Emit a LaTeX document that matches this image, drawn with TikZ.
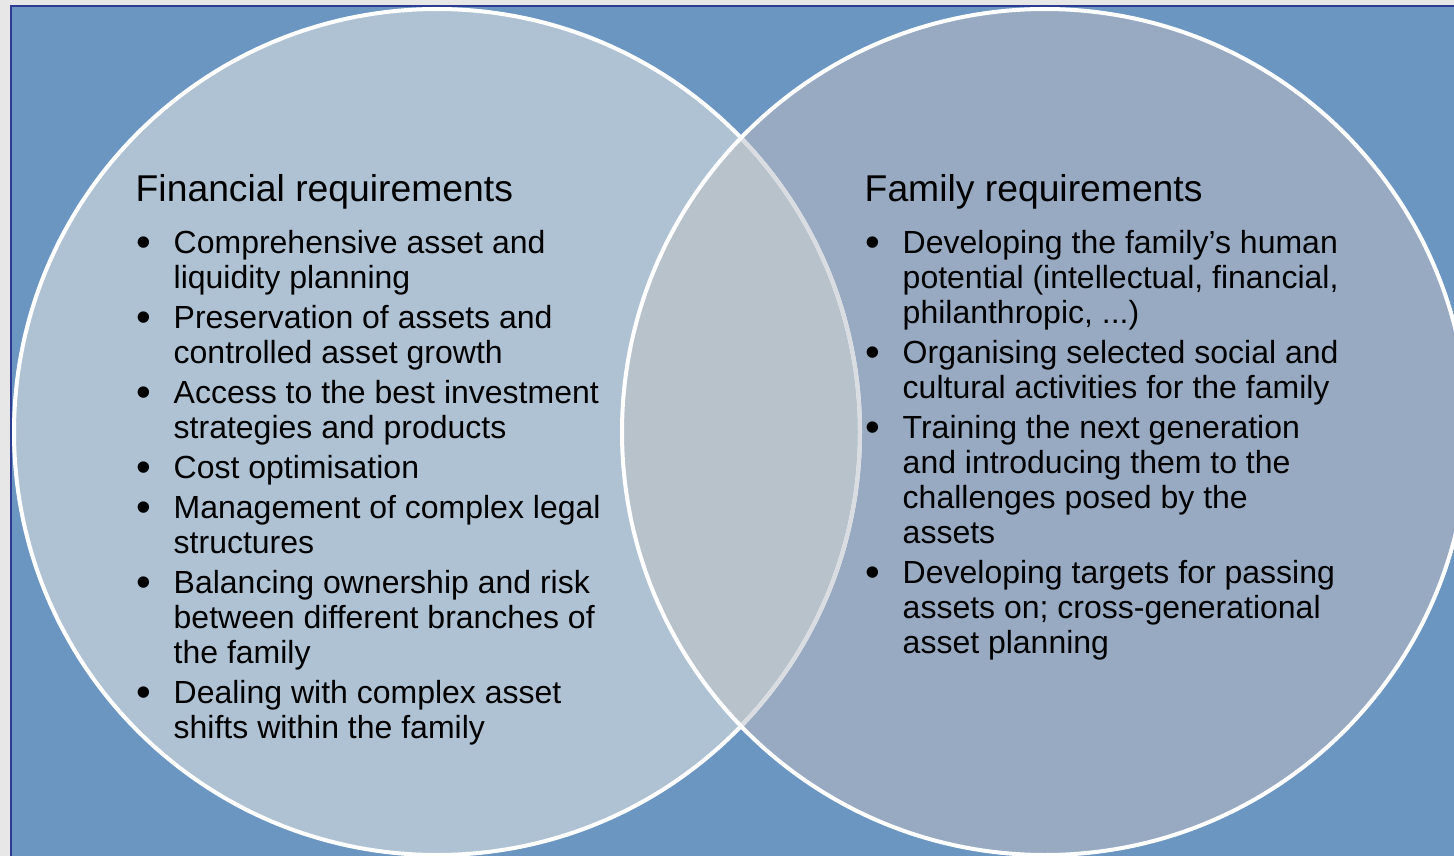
\documentclass[tikz,border=0pt]{standalone}
\usepackage{fontspec}
\setmainfont{Liberation Sans}
\definecolor{pagegray}{HTML}{E7E7E7}
\definecolor{panelblue}{HTML}{6B96C2}
\definecolor{paneledge}{HTML}{2E3B93}
\definecolor{finfill}{HTML}{AFC2D4}
\definecolor{famfill}{HTML}{97AAC2}
\definecolor{bothfill}{HTML}{B8C2CB}
\definecolor{hiddenarc}{HTML}{D9DDE1}
\tikzset{
  heading/.style={anchor=base west, inner sep=0pt, font=\fontsize{37.3}{40}\selectfont},
  entry/.style={anchor=base west, inner sep=0pt, font=\fontsize{32}{35}\selectfont},
  dot/.style={anchor=base west, inner sep=0pt, font=\fontsize{42}{44}\selectfont},
  rim/.style={line width=4pt}
}
\begin{document}
\begin{tikzpicture}[x=1pt,y=-1pt]
\useasboundingbox (0,0) rectangle (1454,856);
% page and panel
\fill[pagegray] (0,0) rectangle (1454,856);
\fill[panelblue] (11,6) rectangle (1470,870);
\draw[paneledge, line width=1.6pt] (11,870) -- (11,6) -- (1470,6);
% circle centres
\coordinate (fc) at (437,432);
\coordinate (mc) at (1045,432);
% fills
\fill[finfill] (fc) circle[radius=423pt];
\fill[famfill] (mc) circle[radius=423pt];
\begin{scope}
  \clip (fc) circle[radius=423pt];
  \fill[bothfill] (mc) circle[radius=423pt];
\end{scope}
% outlines
\draw[white, rim] (fc) circle[radius=423pt];
\begin{scope}
  \clip (mc) circle[radius=421pt];
  \draw[hiddenarc, rim] (fc) circle[radius=423pt];
\end{scope}
\draw[white, rim] (mc) circle[radius=423pt];

% left set
\node[heading] (ftitle) at (135.5,201) {Financial requirements};
\node[dot] (fb1) at (136,256) {•};
\node[entry] (f1a) at (173.5,253) {Comprehensive asset and};
\node[entry] (f1b) at (173.5,288) {liquidity planning};
\node[dot] (fb2) at (136,331) {•};
\node[entry] (f2a) at (173.5,328) {Preservation of assets and};
\node[entry] (f2b) at (173.5,363) {controlled asset growth};
\node[dot] (fb3) at (136,406) {•};
\node[entry] (f3a) at (173.5,403) {Access to the best investment};
\node[entry] (f3b) at (173.5,438) {strategies and products};
\node[dot] (fb4) at (136,481) {•};
\node[entry] (f4a) at (173.5,478) {Cost optimisation};
\node[dot] (fb5) at (136,521) {•};
\node[entry] (f5a) at (173.5,518) {Management of complex legal};
\node[entry] (f5b) at (173.5,553) {structures};
\node[dot] (fb6) at (136,596) {•};
\node[entry] (f6a) at (173.5,593) {Balancing ownership and risk};
\node[entry] (f6b) at (173.5,628) {between different branches of};
\node[entry] (f6c) at (173.5,663) {the family};
\node[dot] (fb7) at (136,706) {•};
\node[entry] (f7a) at (173.5,703) {Dealing with complex asset};
\node[entry] (f7b) at (173.5,738) {shifts within the family};

% right set
\node[heading] (mtitle) at (864.5,201) {Family requirements};
\node[dot] (mb1) at (865,256) {•};
\node[entry] (m1a) at (902.5,253) {Developing the family’s human};
\node[entry] (m1b) at (902.5,288) {potential (intellectual, financial,};
\node[entry] (m1c) at (902.5,323) {philanthropic, ...)};
\node[dot] (mb2) at (865,366) {•};
\node[entry] (m2a) at (902.5,363) {Organising selected social and};
\node[entry] (m2b) at (902.5,398) {cultural activities for the family};
\node[dot] (mb3) at (865,441) {•};
\node[entry] (m3a) at (902.5,438) {Training the next generation};
\node[entry] (m3b) at (902.5,473) {and introducing them to the};
\node[entry] (m3c) at (902.5,508) {challenges posed by the};
\node[entry] (m3d) at (902.5,543) {assets};
\node[dot] (mb4) at (865,586) {•};
\node[entry] (m4a) at (902.5,583) {Developing targets for passing};
\node[entry] (m4b) at (902.5,618) {assets on; cross-generational};
\node[entry] (m4c) at (902.5,653) {asset planning};
\end{tikzpicture}
\end{document}
